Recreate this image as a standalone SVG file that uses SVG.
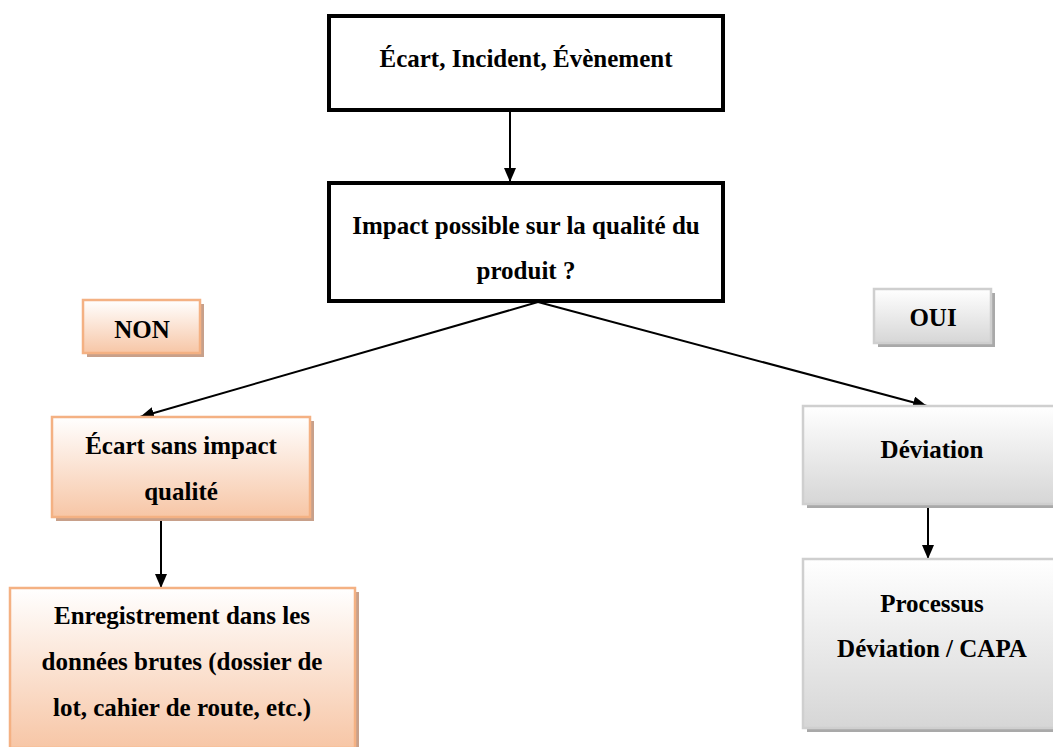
<svg xmlns="http://www.w3.org/2000/svg" width="1053" height="747" viewBox="0 0 1053 747">
<defs>
<linearGradient id="gO" x1="0" y1="0" x2="0" y2="1"><stop offset="0" stop-color="#ffffff"/><stop offset="1" stop-color="#f7c6a6"/></linearGradient>
<linearGradient id="gG" x1="0" y1="0" x2="0" y2="1"><stop offset="0" stop-color="#ffffff"/><stop offset="1" stop-color="#d6d6d6"/></linearGradient>
<marker id="ah" viewBox="0 0 14 12" refX="14" refY="6" markerWidth="14" markerHeight="12" markerUnits="userSpaceOnUse" orient="auto"><path d="M0,0 L14,6 L0,12 Z" fill="#000"/></marker>
<style>
text{font-family:"Liberation Serif","Times New Roman",serif;font-weight:bold;font-size:25px;fill:#000;text-anchor:middle}
.blk{fill:#fff;stroke:#000;stroke-width:4}
.or{fill:url(#gO);stroke:#f4b183;stroke-width:2.5}
.ors{fill:#c8a08a}
.gr{fill:url(#gG);stroke:#cfcfcf;stroke-width:2.5}
.grs{fill:#a9a9a9}
.con{stroke:#000;stroke-width:2;fill:none;marker-end:url(#ah)}
</style>
</defs>
<g id="connectors">
<line class="con" x1="510" y1="111" x2="510" y2="182"/>
<line class="con" x1="538" y1="302" x2="140" y2="417"/>
<line class="con" x1="538" y1="302" x2="927" y2="406"/>
<line class="con" x1="161" y1="518" x2="161" y2="588"/>
<line class="con" x1="928" y1="505" x2="928" y2="559"/>
</g>
<g id="n1">
<rect class="blk" x="329" y="16" width="394" height="94"/>
<text x="526" y="67">Écart, Incident, Évènement</text>
</g>
<g id="n2">
<rect class="blk" x="329" y="183" width="394" height="118"/>
<text x="526" y="234">Impact possible sur la qualité du</text>
<text x="526" y="279">produit ?</text>
</g>
<g id="non">
<rect class="ors" x="87" y="304" width="117" height="53"/>
<rect class="or" x="83" y="300" width="117" height="53"/>
<text x="142" y="338">NON</text>
</g>
<g id="oui">
<rect class="grs" x="878" y="293" width="117" height="54"/>
<rect class="gr" x="874" y="289" width="117" height="54"/>
<text x="933" y="326">OUI</text>
</g>
<g id="n3">
<rect class="ors" x="56" y="421" width="258" height="100"/>
<rect class="or" x="52" y="417" width="258" height="100"/>
<text x="181" y="454">Écart sans impact</text>
<text x="181" y="500">qualité</text>
</g>
<g id="n4">
<rect class="ors" x="14" y="592" width="345" height="160"/>
<rect class="or" x="10" y="588" width="345" height="160"/>
<text x="182" y="624">Enregistrement dans les</text>
<text x="182" y="670">données brutes (dossier de</text>
<text x="182" y="716">lot, cahier de route, etc.)</text>
</g>
<g id="n5">
<rect class="grs" x="807" y="410" width="258" height="98"/>
<rect class="gr" x="803" y="406" width="258" height="98"/>
<text x="932" y="458">Déviation</text>
</g>
<g id="n6">
<rect class="grs" x="807" y="563" width="258" height="169"/>
<rect class="gr" x="803" y="559" width="258" height="169"/>
<text x="932" y="612">Processus</text>
<text x="932" y="657">Déviation / CAPA</text>
</g>
</svg>
